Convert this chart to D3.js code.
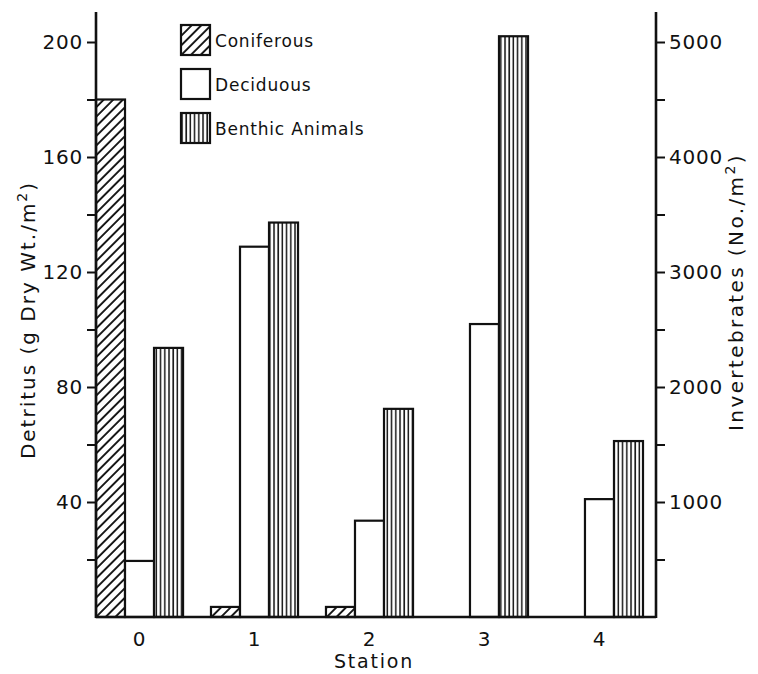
<!DOCTYPE html>
<html>
<head>
<meta charset="utf-8">
<script src="https://cdn.jsdelivr.net/npm/d3@7"></script>
<style>
  body { margin: 0; background: #fff; }
  text { font-family: "DejaVu Sans", sans-serif; fill: #111; }
</style>
</head>
<body>
<svg width="758" height="674"></svg>
<script>
// values
var stations = ["0", "1", "2", "3", "4"];
var coniferous = [180, 3.5, 3.5, 0, 0];          // g dry wt / m2
var deciduous = [19.5, 128.8, 33.5, 101.9, 41];  // g dry wt / m2
var benthic = [2340, 3430, 1810, 5050, 1530];    // no. / m2
var seriesNames = ["Coniferous", "Deciduous", "Benthic Animals"];
var leftTicks = [40, 80, 120, 160, 200];
var leftMinor = [20, 60, 100, 140, 180];
var rightTicks = [1000, 2000, 3000, 4000, 5000];
var rightMinor = [500, 1500, 2500, 3500, 4500];

var svg = d3.select("svg");
var x0 = 96, x1 = 656, yTop = 12, base = 617;

var x = d3.scaleBand().domain(stations).range([x0, 643]).paddingInner(0.243).paddingOuter(0);
var xs = d3.scaleBand().domain(seriesNames).range([0, x.bandwidth()]);
var yL = d3.scaleLinear().domain([0, 200]).range([base, 42]);
var yR = d3.scaleLinear().domain([0, 5000]).range([base, 42]);

// fill patterns
var defs = svg.append("defs");
var hatch = defs.append("pattern").attr("id", "hatch")
    .attr("patternUnits", "userSpaceOnUse").attr("width", 6.8).attr("height", 6.8)
    .attr("patternTransform", "rotate(45)");
hatch.append("rect").attr("width", 6.8).attr("height", 6.8).attr("fill", "#fff");
hatch.append("line").attr("x1", 1).attr("x2", 1).attr("y1", 0).attr("y2", 6.8)
    .attr("stroke", "#111").attr("stroke-width", 1.9);

var vert = defs.append("pattern").attr("id", "vert")
    .attr("patternUnits", "userSpaceOnUse").attr("width", 4.2).attr("height", 10);
vert.append("rect").attr("width", 4.2).attr("height", 10).attr("fill", "#fff");
vert.append("line").attr("x1", 1).attr("x2", 1).attr("y1", 0).attr("y2", 10)
    .attr("stroke", "#111").attr("stroke-width", 1.5);

var fills = { "Coniferous": "url(#hatch)", "Deciduous": "#fff", "Benthic Animals": "url(#vert)" };

var rows = stations.map(function(s, i) {
    return [
        { station: s, key: "Coniferous", y: yL(coniferous[i]) },
        { station: s, key: "Deciduous", y: yL(deciduous[i]) },
        { station: s, key: "Benthic Animals", y: yR(benthic[i]) }
    ];
});

svg.append("g").selectAll("g")
    .data(rows)
    .enter().append("g")
    .selectAll("rect")
    .data(function(d) { return d.filter(function(b) { return b.y < base; }); })
    .enter().append("rect")
        .attr("x", function(d) { return x(d.station) + xs(d.key); })
        .attr("y", function(d) { return d.y; })
        .attr("width", xs.bandwidth())
        .attr("height", function(d) { return base - d.y; })
        .attr("fill", function(d) { return fills[d.key]; })
        .attr("stroke", "#111")
        .attr("stroke-width", 2.2);

// left axis
var gl = svg.append("g").attr("transform", "translate(" + x0 + ",0)");
gl.call(d3.axisLeft(yL).tickValues(leftTicks).tickSize(9).tickPadding(4));
gl.select(".domain").remove();
gl.append("g").call(d3.axisLeft(yL).tickValues(leftMinor).tickSize(9).tickFormat(""))
    .select(".domain").remove();

// right axis
var gr = svg.append("g").attr("transform", "translate(" + x1 + ",0)");
gr.call(d3.axisRight(yR).tickValues(rightTicks).tickSize(9).tickPadding(4).tickFormat(d3.format("d")));
gr.select(".domain").remove();
gr.append("g").call(d3.axisRight(yR).tickValues(rightMinor).tickSize(9).tickFormat(""))
    .select(".domain").remove();

// bottom axis (labels only)
var gb = svg.append("g").attr("transform", "translate(0," + base + ")");
gb.call(d3.axisBottom(x).tickSize(0).tickPadding(15));
gb.select(".domain").remove();

svg.selectAll(".tick line").attr("stroke", "#111").attr("stroke-width", 2);
svg.selectAll(".tick text").style("font-size", "20px").style("letter-spacing", "0.8px").attr("fill", "#111");

// frame lines
svg.append("line").attr("x1", x0).attr("x2", x0).attr("y1", yTop).attr("y2", base + 1)
    .attr("stroke", "#111").attr("stroke-width", 2.6);
svg.append("line").attr("x1", x1).attr("x2", x1).attr("y1", yTop).attr("y2", base + 1)
    .attr("stroke", "#111").attr("stroke-width", 2.6);
svg.append("line").attr("x1", x0).attr("x2", x1).attr("y1", base).attr("y2", base)
    .attr("stroke", "#111").attr("stroke-width", 2.6);

// axis titles
svg.append("text").attr("x", 374).attr("y", 668).attr("text-anchor", "middle")
    .style("font-size", "19px").style("letter-spacing", "1.8px").text("Station");

var lt = svg.append("text").attr("transform", "translate(35,320) rotate(-90)")
    .attr("text-anchor", "middle").style("font-size", "20px").style("letter-spacing", "2px");
lt.append("tspan").text("Detritus (g Dry Wt./m");
lt.append("tspan").attr("dy", -8).style("font-size", "14px").text("2");
lt.append("tspan").attr("dy", 8).text(")");

var rt = svg.append("text").attr("transform", "translate(743,292) rotate(-90)")
    .attr("text-anchor", "middle").style("font-size", "20px").style("letter-spacing", "2.4px");
rt.append("tspan").text("Invertebrates  (No./m");
rt.append("tspan").attr("dy", -8).style("font-size", "14px").text("2");
rt.append("tspan").attr("dy", 8).text(")");

// legend
var legend = svg.append("g").selectAll("g")
    .data(seriesNames)
    .enter().append("g")
    .attr("transform", function(d, i) { return "translate(181," + (25 + i * 44) + ")"; });
legend.append("rect").attr("width", 29).attr("height", 30)
    .attr("fill", function(d) { return fills[d]; })
    .attr("stroke", "#111").attr("stroke-width", 2.2);
legend.append("text").attr("x", 34).attr("y", 22)
    .style("font-size", "17px").style("letter-spacing", "0.8px")
    .text(function(d) { return d; });
</script>
</body>
</html>
